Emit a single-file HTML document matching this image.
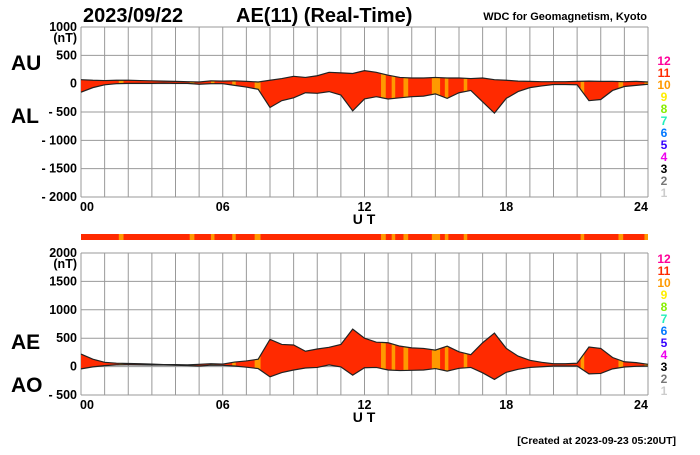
<!DOCTYPE html>
<html><head><meta charset="utf-8"><style>
body{margin:0;background:#fff;}
svg text{font-family:"Liberation Sans",Arial,sans-serif;font-weight:bold;}
</style></head><body>
<svg id="chart" width="700" height="450" viewBox="0 0 700 450" xmlns="http://www.w3.org/2000/svg">
<text x="83" y="22" font-size="20">2023/09/22</text>
<text x="236" y="22" font-size="20">AE(11) (Real-Time)</text>
<text x="647" y="20" font-size="11" text-anchor="end" font-weight="normal">WDC for Geomagnetism, Kyoto</text>
<text x="11" y="70" font-size="21">AU</text>
<text x="11" y="123" font-size="21">AL</text>
<text x="11" y="349" font-size="21">AE</text>
<text x="11" y="392" font-size="21">AO</text>
<text x="676" y="444" font-size="10.5" text-anchor="end">[Created at 2023-09-23 05:20UT]</text>
<g id="g"></g>
</svg>
<script>
const hours=[0,0.5,1,1.5,2,2.5,3,3.5,4,4.5,5,5.5,6,6.5,7,7.5,8,8.5,9,9.5,10,10.5,11,11.5,12,12.5,13,13.5,14,14.5,15,15.5,16,16.5,17,17.5,18,18.5,19,19.5,20,20.5,21,21.5,22,22.5,23,23.5,24];
const auValues=[70,60,55,60,60,55,50,45,40,35,30,50,45,50,40,30,60,90,130,110,140,200,190,180,230,200,150,110,100,100,110,100,100,90,100,70,60,45,40,35,35,35,40,45,40,40,35,40,30];
const alValues=[-150,-70,-20,0,5,5,5,10,5,5,-10,0,0,-30,-60,-100,-420,-300,-250,-160,-170,-140,-200,-480,-270,-230,-270,-250,-230,-220,-180,-260,-160,-120,-320,-520,-260,-140,-70,-40,-15,-15,-20,-300,-280,-120,-50,-30,-10];
const orangeStart=[1.6,4.6,5.5,6.4,7.35,12.7,13.15,13.65,14.85,15.4,16.2,21.15,22.75,23.85];
const orangeEnd=[1.8,4.8,5.65,6.55,7.6,12.9,13.3,13.85,15.2,15.55,16.35,21.3,22.95,24];
const yTicksTop=[1000,500,0,-500,-1000,-1500,-2000];
const yTicksBot=[2000,1500,1000,500,0,-500];
const xTickLabels=["00","06","12","18","24"];
const stationLabels=["12","11","10","9","8","7","6","5","4","3","2","1"];
const stationColors=["#ff0099","#ff2a00","#ff9900","#ffee00","#88ee00","#22eebb","#0077ff","#3300ff","#ee00ee","#000000","#777777","#cccccc"];
const NS="http://www.w3.org/2000/svg";
const G=document.getElementById('g');
const X0=81,X1=648;
const xs=h=>X0+(X1-X0)*h/24;
const yTop=v=>27+(1000-v)*170/3000;
const yBot=v=>253+(2000-v)*142/2500;
function el(t,a,p){const e=document.createElementNS(NS,t);for(const k in a)e.setAttribute(k,a[k]);(p||G).appendChild(e);return e;}
const aeValues=auValues.map((u,i)=>u-alValues[i]);
const aoValues=auValues.map((u,i)=>(u+alValues[i])/2);
function panel(id,ys,ticks,upper,lower,legendTop){
  const pg=el('g',{});
  
  
  const yT=ys(ticks[0]),yB=ys(ticks[ticks.length-1]);
  for(let h=0;h<=24;h++){const l=el('line',{x1:xs(h),x2:xs(h),y1:yT,y2:yB,stroke:'#999','stroke-width':1},pg);}
  ticks.forEach((t,i)=>{const l=el('line',{x1:X0,x2:X1,y1:ys(t),y2:ys(t),stroke:'#999','stroke-width':1},pg);
    const tx=el('text',{x:77,y:ys(t)+4,'font-size':12.5,'text-anchor':'end'},pg);tx.textContent=t<0?'- '+(-t):String(t);});
  const nt=el('text',{x:77,y:yT+15,'font-size':12.5,'text-anchor':'end'},pg);nt.textContent='(nT)';
  xTickLabels.forEach((s,i)=>{const tx=el('text',{x:xs(i*6)+(i==4?-7:(i==0?6:0)),y:yB+14,'font-size':12.5,'text-anchor':'middle'},pg);tx.textContent=s;});
  const ut=el('text',{x:364,y:yB+27,'font-size':14,'text-anchor':'middle'},pg);ut.textContent='U T';
  const up=hours.map((h,i)=>xs(h)+','+ys(upper[i]));
  const lo=hours.map((h,i)=>xs(h)+','+ys(lower[i])).reverse();
  const cp=el('clipPath',{id:'clip-'+id},pg);
  el('polygon',{points:up.concat(lo).join(' ')},cp);
  const fill=el('g',{'clip-path':'url(#clip-'+id+')'},pg);
  
  el('rect',{x:X0,y:yT,width:X1-X0,height:yB-yT,fill:'#ff2a00'},fill);
  orangeStart.forEach((s,i)=>{const r=el('rect',{x:xs(s),y:yT,width:xs(orangeEnd[i])-xs(s),height:yB-yT,fill:'#ff9900'},fill);});
  const l1=el('polyline',{points:up.join(' '),fill:'none',stroke:'#222','stroke-width':1.2},pg);
  const l2=el('polyline',{points:hours.map((h,i)=>xs(h)+','+ys(lower[i])).join(' '),fill:'none',stroke:'#222','stroke-width':1.2},pg);
  stationLabels.forEach((s,i)=>{const tx=el('text',{x:664,y:legendTop+i*12,'font-size':12,'text-anchor':'middle',fill:stationColors[i]},pg);tx.textContent=s;});
}
panel('au-al',yTop,yTicksTop,auValues,alValues,65);
panel('ae-ao',yBot,yTicksBot,aeValues,aoValues,263);
const bar=el('g',{});


el('rect',{x:X0,y:234,width:X1-X0,height:6,fill:'#ff2a00'},bar);
orangeStart.forEach((s,i)=>{const r=el('rect',{x:xs(s),y:234,width:xs(orangeEnd[i])-xs(s),height:6,fill:'#ff9900'},bar);});
</script>
</body></html>
